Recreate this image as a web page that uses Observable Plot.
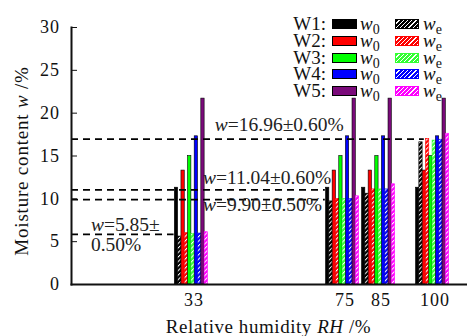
<!DOCTYPE html>
<html>
<head>
<meta charset="utf-8">
<script src="https://cdn.jsdelivr.net/npm/d3@7"></script>
<script src="https://cdn.jsdelivr.net/npm/@observablehq/plot@0.6"></script>
<style>
  html, body { margin: 0; padding: 0; background: #fff; }
  #wrap { position: relative; width: 467px; height: 336px; font-family: "Liberation Serif", "DejaVu Serif", serif; color: #111; }
  #wrap svg, #wrap svg text { font-family: "Liberation Serif", "DejaVu Serif", serif !important; }
  .lg { position: absolute; font-size: 19px; line-height: 15px; height: 15px; white-space: nowrap; }
  .sw { position: absolute; box-sizing: border-box; }
  .lg i { font-style: italic; }
  .lg sub { font-size: 14px; vertical-align: -4px; line-height: 0; }
</style>
</head>
<body>
<div id="wrap"></div>
<script>
// ---- data ----
const rhValues = [33, 75, 85, 100];
const seriesNames = ["W1", "W2", "W3", "W4", "W5"];
const w0Values = [11.3, 13.3, 15.0, 17.3, 21.7];      // initial moisture content per series
const weW1 = [5.6, 9.7, 10.6, 16.6];                  // equilibrium moisture content at each RH
const weW2 = [6.0, 10.0, 11.1, 17.0];
const weW3 = [5.9, 10.0, 11.1, 16.8];
const weW4 = [5.95, 10.0, 11.1, 16.9];
const weW5 = [6.1, 10.3, 11.7, 17.6];
const refLevels = [16.96, 11.04, 9.90, 5.85];
const refTexts = ["w=16.96±0.60%", "w=11.04±0.60%", "w=9.90±0.50%", "w=5.85±", "0.50%"];
const yTicks = [0, 5, 10, 15, 20, 25, 30];

// ---- styles ----
const solidColors = ["#000000", "#ff0000", "#00ff00", "#0000ff", "#7a0a7a"];
const hatchColors = ["#000000", "#ff0000", "#33ff33", "#0000ff", "#ff00ff"];
const weAll = [weW1, weW2, weW3, weW4, weW5];
const FONT = "Liberation Serif";

const barW = 0.92;     // bar width in RH units
const groupShift = -0.7;
const offset = (k) => groupShift - 5 * barW + k * barW;

const solidData = [];
const hatchData = [];
seriesNames.forEach((s, si) => {
  rhValues.forEach((rh, ri) => {
    solidData.push({series: s, si, rh, value: w0Values[si], k: 2 * si});
    hatchData.push({series: s, si, rh, value: weAll[si][ri], k: 2 * si + 1});
  });
});

// reference lines: extent to the right (RH units)
const refEnds = [97, 69.5, 69.5, 27.5];
const refData = refLevels.map((v, i) => ({level: v, end: refEnds[i]}));
// annotation placement (RH, w)
const annPos = [[38.8, 17.95], [35.5, 11.7], [35.5, 8.55], [4.4, 6.3], [4.4, 3.95]];
const annData = refTexts.map((t, i) => ({text: t, x: annPos[i][0], y: annPos[i][1]}));

const marks = [];
seriesNames.forEach((s, si) => {
  marks.push(Plot.rectY(solidData.filter(d => d.si === si), {
    x1: d => d.rh + offset(d.k), x2: d => d.rh + offset(d.k) + barW,
    y: "value", fill: solidColors[si], stroke: "#000", strokeWidth: 0.6
  }));
  marks.push(Plot.rectY(hatchData.filter(d => d.si === si), {
    x1: d => d.rh + offset(d.k), x2: d => d.rh + offset(d.k) + barW,
    y: "value", fill: `url(#hatch${si})`, stroke: hatchColors[si], strokeWidth: 0.6
  }));
});

const chart = Plot.plot({
  width: 467, height: 336,
  marginLeft: 71, marginRight: 0, marginTop: 27, marginBottom: 52,
  style: {fontFamily: FONT, fontSize: "17px", color: "#111", background: "#fff"},
  x: {domain: [-1, 109]},
  y: {domain: [0, 30]},
  marks: [
    ...marks,
    Plot.ruleY(refData, {y: "level", x1: -1, x2: "end", stroke: "#000", strokeWidth: 1.8, strokeDasharray: "7,5"}),
    Plot.text(annData, {x: "x", y: "y", text: "text", textAnchor: "start", lineAnchor: "bottom", fontSize: 19.5, fill: "#222"}),
    Plot.axisY({ticks: yTicks, tickSize: -6, tickPadding: 17.5, fontSize: 18, label: "Moisture content w /%", labelAnchor: "center", labelArrow: "none", labelOffset: 57}),
    Plot.axisX({ticks: rhValues, tickSize: 0, tickPadding: 8.5, fontSize: 18, label: "Relative humidity RH /%", labelAnchor: "center", labelArrow: "none", labelOffset: 48}),
    Plot.frame({anchor: "left", strokeWidth: 2}),
    Plot.frame({anchor: "bottom", strokeWidth: 2})
  ]
});

// hatch patterns
const svg = d3.select(chart.tagName.toLowerCase() === "svg" ? chart : chart.querySelector("svg"));
const defs = svg.insert("defs", ":first-child");
hatchColors.forEach((c, i) => {
  const p = defs.append("pattern").attr("id", `hatch${i}`).attr("patternUnits", "userSpaceOnUse")
    .attr("width", 3.2).attr("height", 3.2).attr("patternTransform", "rotate(45)");
  p.append("rect").attr("width", 3.2).attr("height", 3.2).attr("fill", c);
  p.append("line").attr("x1", 0.5).attr("y1", 0).attr("x2", 0.5).attr("y2", 3.2).attr("stroke", "#fff").attr("stroke-width", 1);
});

// italic variables and spacing tweaks
svg.selectAll("text").each(function() {
  const el = this;
  if (el.querySelector("tspan")) return;
  const t = el.textContent;
  let m;
  if (/^\d+$/.test(t)) {
    el.style.letterSpacing = "1px";
  } else if (/^w=/.test(t)) {
    el.textContent = "";
    d3.select(el).append("tspan").attr("font-style", "italic").text("w");
    d3.select(el).append("tspan").text(t.slice(1));
  } else if ((m = t.match(/^(Moisture content )(w)( \/%)$/))) {
    el.textContent = "";
    el.setAttribute("font-size", 19);
    el.setAttribute("dx", -5);
    el.style.letterSpacing = "0.8px";
    d3.select(el).append("tspan").text(m[1]);
    d3.select(el).append("tspan").attr("font-style", "italic").text(m[2]);
    d3.select(el).append("tspan").text(m[3]);
  } else if ((m = t.match(/^(Relative humidity )(RH)( \/%)$/))) {
    el.textContent = "";
    el.setAttribute("font-size", 19);
    el.setAttribute("dx", -1);
    el.style.letterSpacing = "0.55px";
    d3.select(el).append("tspan").text(m[1]);
    d3.select(el).append("tspan").attr("font-style", "italic").text(m[2]);
    d3.select(el).append("tspan").text(m[3]);
  }
});

const wrap = document.getElementById("wrap");
wrap.appendChild(chart);

// legend overlay
seriesNames.forEach((s, i) => {
  const top = 16 + i * 16.8;
  const lab = document.createElement("div");
  lab.className = "lg";
  lab.style.left = "283px"; lab.style.width = "43px"; lab.style.textAlign = "right"; lab.style.top = top + "px";
  lab.textContent = s + ":";
  wrap.appendChild(lab);

  const sw = document.createElement("div");
  sw.className = "sw";
  Object.assign(sw.style, {left: "332px", top: (top + 3) + "px", width: "25px", height: "10px",
    background: solidColors[i], border: "1.5px solid #000"});
  wrap.appendChild(sw);

  const t0 = document.createElement("div");
  t0.className = "lg";
  t0.style.left = "360px"; t0.style.top = top + "px";
  t0.innerHTML = "<i>w</i><sub>0</sub>";
  wrap.appendChild(t0);

  const hw = document.createElement("div");
  hw.className = "sw";
  Object.assign(hw.style, {left: "395px", top: (top + 3) + "px", width: "24px", height: "10px",
    border: `1px solid ${hatchColors[i]}`,
    background: `repeating-linear-gradient(135deg, ${hatchColors[i]} 0 2px, #fff 2px 3px)`});
  wrap.appendChild(hw);

  const te = document.createElement("div");
  te.className = "lg";
  te.style.left = "423px"; te.style.top = top + "px";
  te.innerHTML = "<i>w</i><sub>e</sub>";
  wrap.appendChild(te);
});
</script>
</body>
</html>
